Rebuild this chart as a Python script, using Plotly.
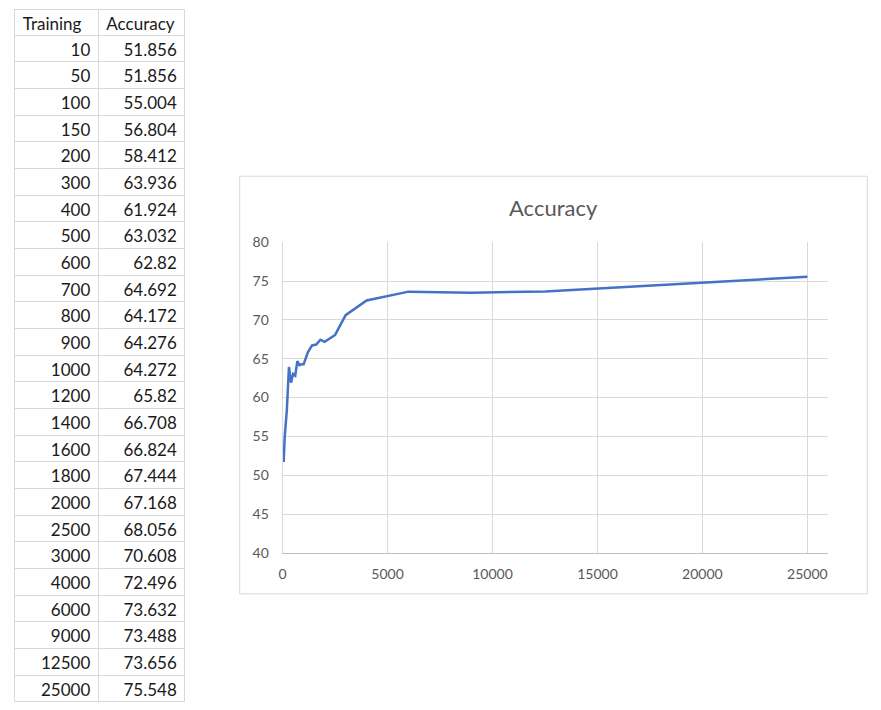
import plotly.graph_objects as go

W, H = 881, 710

training = [10, 50, 100, 150, 200, 300, 400, 500, 600, 700, 800, 900, 1000,
            1200, 1400, 1600, 1800, 2000, 2500, 3000, 4000, 6000, 9000, 12500, 25000]
accuracy = [51.856, 51.856, 55.004, 56.804, 58.412, 63.936, 61.924, 63.032, 62.82,
            64.692, 64.172, 64.276, 64.272, 65.82, 66.708, 66.824, 67.444, 67.168,
            68.056, 70.608, 72.496, 73.632, 73.488, 73.656, 75.548]
headers = ["Training", "Accuracy"]
x_ticks = [0, 5000, 10000, 15000, 20000, 25000]
y_ticks = [40, 45, 50, 55, 60, 65, 70, 75, 80]

font = "Lato, Calibri, sans-serif"
grey = "#595959"
grid = "#d9d9d9"


# screen pixel -> paper fraction (page shows the figure a bit shrunk and offset)
def px(x):
    return (x - 3.2) / 0.996 / W


def py(y):
    return 1 - (y - 7.6) / 0.977 / H


fig = go.Figure()

# sheet-style table on the left
fig.add_trace(go.Table(
    domain=dict(x=[px(14), px(185)], y=[0, 1]),
    columnwidth=[84, 87],
    header=dict(values=headers, align="left", height=26,
                fill_color="white", line=dict(color=grid, width=1),
                font=dict(family=font, size=17, color="#1a1a1a")),
    cells=dict(values=[[str(t) for t in training], [f"{a:g}" for a in accuracy]],
               align="right", height=26.67,
               fill_color="white", line=dict(color=grid, width=1),
               font=dict(family=font, size=17, color="#1a1a1a")),
))

fig.add_trace(go.Scatter(
    x=training, y=accuracy, mode="lines",
    line=dict(color="#4472C4", width=2.5),
    showlegend=False,
))

fig.update_layout(
    width=W, height=H,
    margin=dict(l=0, r=0, t=0, b=0),
    paper_bgcolor="white", plot_bgcolor="white",
    font=dict(family=font, color=grey, size=14),
    showlegend=False,
    shapes=[dict(type="rect", xref="paper", yref="paper",
                 x0=px(239), x1=px(867), y0=py(593), y1=py(175),
                 line=dict(color=grid, width=1), fillcolor="rgba(0,0,0,0)")],
    annotations=[dict(text="Accuracy", xref="paper", yref="paper",
                      x=px(553), y=py(206), yanchor="middle", showarrow=False,
                      font=dict(family=font, size=22, color=grey))],
    xaxis=dict(domain=[px(282), px(828)], range=[0, 26000],
               tickvals=x_ticks, tickformat="d",
               showgrid=True, gridcolor=grid, zeroline=False,
               showline=True, linecolor="#bfbfbf", linewidth=1,
               ticks="outside", ticklen=8, tickcolor="white",
               tickfont=dict(size=14, color=grey)),
    yaxis=dict(domain=[py(552), py(241)], range=[40, 80],
               tickvals=y_ticks, showgrid=True, gridcolor=grid, zeroline=False,
               showline=True, linecolor=grid, linewidth=1,
               ticks="outside", ticklen=10, tickcolor="white",
               tickfont=dict(size=14, color=grey)),
)

fig.write_html("out.html", config={"displayModeBar": False},
               post_script="document.body.style.margin='0px';")
